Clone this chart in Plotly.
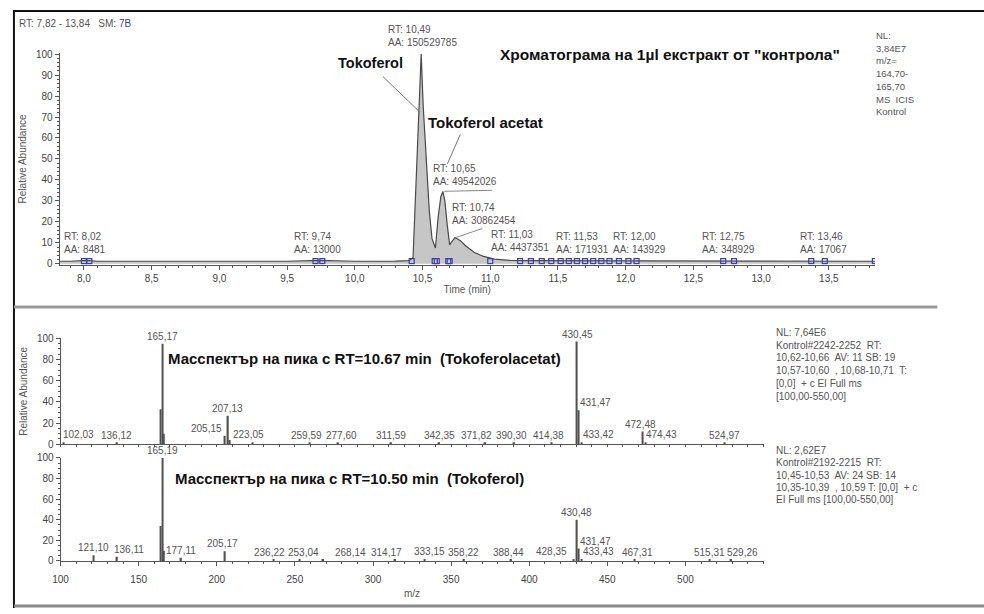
import plotly.graph_objects as go

W, H = 984, 614
FONT = "Liberation Sans, Arial, sans-serif"
GREY = "#555555"
AXIS = "#555555"
BLUE = "#3b3fa8"

# ---------------- chromatogram, m/z 164,70-165,70 ----------------
rt_min = [7.82, 7.90, 8.02, 8.10, 8.50, 9.00, 9.50, 9.74, 10.00, 10.30,
          10.40, 10.43, 10.44, 10.455, 10.47, 10.49, 10.505, 10.525, 10.55, 10.57,
          10.595, 10.615, 10.635, 10.65, 10.665, 10.68, 10.70, 10.715, 10.74, 10.78,
          10.82, 10.88, 10.95, 11.03, 11.15, 11.30, 11.53, 11.80, 12.00, 12.30,
          12.50, 12.75, 13.00, 13.30, 13.46, 13.70, 13.84]
rel_abund = [1.2, 1.2, 1.6, 1.2, 1.2, 1.2, 1.2, 1.6, 1.2, 1.3,
             1.5, 3.0, 20.0, 50.0, 72.0, 100.0, 75.0, 50.0, 25.0, 12.0,
             7.5, 22.0, 32.0, 34.5, 30.0, 20.0, 9.0, 10.5, 12.5, 11.0,
             8.5, 5.5, 3.5, 2.2, 1.6, 1.5, 1.5, 1.4, 1.4, 1.3,
             1.3, 1.5, 1.3, 1.3, 1.4, 1.2, 1.2]

# integration boundaries marked along the baseline
bound_rt = [8.00, 8.04, 9.71, 9.76, 10.42, 10.59, 10.605, 10.69, 10.70, 11.00,
            11.22, 11.30, 11.38, 11.45, 11.52, 11.58, 11.64, 11.70, 11.76, 11.82,
            11.88, 11.95, 12.02, 12.08, 12.72, 12.80, 13.37, 13.47, 13.84]

# detected peaks: retention time and area
peak_rt = [8.02, 9.74, 10.49, 10.65, 10.74, 11.03, 11.53, 12.00, 12.75, 13.46]
peak_area = ["8481", "13000", "150529785", "49542026", "30862454",
             "4437351", "171931", "143929", "348929", "17067"]
peak_label_dx = [-2, -2, 1, 22, 29, 26, 20, 14, 1, 0]
peak_label_dy = [3, 3, 4, 2, 10, 4, 4, 4, 4, 4]

time_ticks = [8.0, 8.5, 9.0, 9.5, 10.0, 10.5, 11.0, 11.5, 12.0, 12.5, 13.0, 13.5]

# ---------------- mass spectrum, RT 10,62-10,66 ----------------
ms1_mz = [102.03, 136.12, 164.15, 165.17, 166.18, 205.15, 207.13, 208.12, 223.05,
          259.59, 277.60, 311.59, 342.35, 371.82, 390.30, 414.38, 430.45, 431.47,
          433.42, 472.48, 474.43, 524.97]
ms1_ab = [2.0, 1.5, 33.0, 95.0, 10.0, 8.0, 27.0, 4.0, 2.0,
          1.5, 1.5, 1.0, 1.5, 1.5, 1.5, 1.0, 97.0, 32.0,
          2.0, 12.0, 2.0, 1.0]
ms1_labeled = [102.03, 136.12, 165.17, 205.15, 207.13, 223.05, 259.59, 277.60,
               311.59, 342.35, 371.82, 390.30, 414.38, 430.45, 431.47, 433.42,
               472.48, 474.43, 524.97]
ms1_label_dx = [15, 0, 0, -18, 0, -4, -3, 3, 0, 0, -9, -3, -3, 1, 17, 17, -2, 16, 0]

# ---------------- mass spectrum, RT 10,45-10,53 ----------------
ms2_mz = [121.10, 136.11, 164.15, 165.19, 166.20, 177.11, 205.17, 236.22, 253.04,
          268.14, 314.17, 333.15, 358.22, 388.44, 428.35, 430.48, 431.47, 433.43,
          467.31, 515.31, 529.26]
ms2_ab = [5.5, 4.0, 34.0, 100.0, 10.0, 3.0, 9.5, 1.0, 1.0,
          1.0, 1.0, 1.5, 1.0, 1.0, 2.0, 40.0, 12.0, 1.5,
          1.0, 1.0, 1.0]
ms2_labeled = [121.10, 136.11, 165.19, 177.11, 205.17, 236.22, 253.04, 268.14,
               314.17, 333.15, 358.22, 388.44, 428.35, 430.48, 431.47, 433.43,
               467.31, 515.31, 529.26]
ms2_label_dx = [0, 12, 0, 0, -2, -4, 4, 27, -9, 5, 0, -3, -22, 0, 17, 17, 3, 0, 11]

mz_ticks = [100, 150, 200, 250, 300, 350, 400, 450, 500]


def xp(px):
    return px / W


def yp(py):
    return 1 - py / H


def comma(v):
    return f"{v:.2f}".replace(".", ",")


fig = go.Figure()

# chromatogram
fig.add_trace(go.Scatter(
    x=rt_min, y=rel_abund, mode="lines", fill="tozeroy",
    fillcolor="#c6c6c6", line=dict(color="#4a4a4a", width=1.2),
    xaxis="x", yaxis="y", hoverinfo="skip", showlegend=False))
fig.add_trace(go.Scatter(
    x=bound_rt, y=[1.3] * len(bound_rt), mode="markers",
    marker=dict(symbol="square-open", size=5, color=BLUE, line=dict(width=1.2, color=BLUE)),
    xaxis="x", yaxis="y", hoverinfo="skip", showlegend=False))

# spectra
fig.add_trace(go.Bar(
    x=ms1_mz, y=ms1_ab, width=1.0, marker=dict(color="#505050", line=dict(width=0)),
    xaxis="x3", yaxis="y2", hoverinfo="skip", showlegend=False))
fig.add_trace(go.Bar(
    x=ms2_mz, y=ms2_ab, width=1.0, marker=dict(color="#505050", line=dict(width=0)),
    xaxis="x2", yaxis="y3", hoverinfo="skip", showlegend=False))

SMALL = 10
tickfont = dict(family=FONT, size=SMALL, color="#444444")
common = dict(showline=True, linecolor=AXIS, linewidth=1, ticks="outside",
              tickcolor=AXIS, ticklen=4, tickwidth=1, showgrid=False,
              zeroline=False, tickfont=tickfont, fixedrange=True)
title_font = dict(family=FONT, size=SMALL, color=GREY)

X0, X1 = 52, 874
MX0, MX1 = 53, 53 + 450 * 1.575

fig.update_layout(
    width=W, height=H, margin=dict(l=0, r=0, t=0, b=0),
    paper_bgcolor="white", plot_bgcolor="white",
    separators=", ", barmode="overlay",
    font=dict(family=FONT, size=SMALL, color=GREY),
    xaxis=dict(domain=[xp(X0), xp(X1)], range=[7.82, 13.84], anchor="y",
               tickvals=time_ticks, tickformat=".1f",
               minor=dict(dtick=0.1, tick0=7.9, ticks="outside", ticklen=2, tickcolor=AXIS),
               title=dict(text="Time (min)", font=title_font, standoff=3),
               **common),
    yaxis=dict(domain=[yp(264), yp(48)], range=[-0.5, 100.5], anchor="x",
               tickvals=list(range(0, 101, 10)),
               minor=dict(dtick=2, ticks="outside", ticklen=2, tickcolor=AXIS),
               title=dict(text="Relative Abundance", font=title_font, standoff=7),
               **common),
    xaxis2=dict(domain=[xp(MX0), xp(MX1)], range=[100, 550], anchor="y3",
                tickvals=mz_ticks, ticklabelstandoff=5,
                minor=dict(dtick=10, ticks="outside", ticklen=2, tickcolor=AXIS),
                title=dict(text="m/z", font=title_font, standoff=6),
                **common),
    xaxis3=dict(domain=[xp(MX0), xp(MX1)], range=[100, 550], anchor="y2",
                matches="x2", showticklabels=False, dtick=10,
                **{k: v for k, v in common.items() if k not in ("ticklen",)}, ticklen=2),
    yaxis2=dict(domain=[yp(447), yp(339)], range=[0, 100], anchor="x3",
                tickvals=[0, 20, 40, 60, 80, 100],
                minor=dict(dtick=5, ticks="outside", ticklen=2, tickcolor=AXIS),
                title=dict(text="Relative Abundance", font=title_font, standoff=7),
                **common),
    yaxis3=dict(domain=[yp(566), yp(461)], range=[0, 100], anchor="x2",
                tickvals=[0, 20, 40, 60, 80, 100],
                minor=dict(dtick=5, ticks="outside", ticklen=2, tickcolor=AXIS),
                **common),
)

ann = []
small = dict(family=FONT, size=SMALL, color=GREY)

# peak labels on the chromatogram
for rt, area, dx, dy in zip(peak_rt, peak_area, peak_label_dx, peak_label_dy):
    h = rel_abund[rt_min.index(rt)]
    ann.append(dict(x=rt, y=h, xref="x", yref="y", xanchor="center", yanchor="bottom",
                    align="left", xshift=dx, yshift=dy, showarrow=False,
                    text=f"RT: {comma(rt)}<br>AA: {area}", font=small))

# m/z labels on the spectra
for mz, dx in zip(ms1_labeled, ms1_label_dx):
    h = ms1_ab[ms1_mz.index(mz)]
    ann.append(dict(x=mz, y=h, xref="x3", yref="y2", xanchor="center", yanchor="bottom",
                    xshift=dx, yshift=0, showarrow=False, text=comma(mz), font=small))
for mz, dx in zip(ms2_labeled, ms2_label_dx):
    h = ms2_ab[ms2_mz.index(mz)]
    ann.append(dict(x=mz, y=h, xref="x2", yref="y3", xanchor="center", yanchor="bottom",
                    xshift=dx, yshift=0, showarrow=False, text=comma(mz), font=small))


def text_at(px, py, text, size=SMALL, color=GREY, anchor="left", bold=False):
    ann.append(dict(x=xp(px), y=yp(py), xref="paper", yref="paper", xanchor=anchor,
                    yanchor="middle", showarrow=False,
                    text=f"<b>{text}</b>" if bold else text,
                    font=dict(family=FONT, size=size, color=color)))


text_at(9, 18, f"RT: 7,82 - 13,84   SM: <span style='color:{BLUE}'>7B</span>")

# titles and compound names
text_at(494, 49, 'Хроматограма на 1µl екстракт от "контрола"', size=15.5, color="#111111", bold=True)
text_at(331, 58, "Tokoferol", size=14.5, color="#111111", bold=True)
text_at(421, 119, "Tokoferol acetat", size=15, color="#111111", bold=True)
text_at(159, 360, "Масспектър на пика с RT=10.67 min  (Tokoferolacetat)", size=15,
        color="#111111", bold=True)
text_at(166, 482, "Масспектър на пика с RT=10.50 min  (Tokoferol)", size=15,
        color="#111111", bold=True)

# scan information blocks
for i, line in enumerate(["NL:", "3,84E7", "m/z=", "164,70-", "165,70", "MS  ICIS", "Kontrol"]):
    text_at(873, 30 + i * 13, line, size=9.5)
for i, line in enumerate(["NL: 7,64E6", "Kontrol#2242-2252  RT:", "10,62-10,66  AV: 11 SB: 19",
                          "10,57-10,60  , 10,68-10,71  T:", "[0,0]  + c EI Full ms",
                          "[100,00-550,00]"]):
    text_at(772, 333 + i * 13, line)
for i, line in enumerate(["NL: 2,62E7", "Kontrol#2192-2215  RT:", "10,45-10,53  AV: 24 SB: 14",
                          "10,35-10,39  , 10,59 T: [0,0]  + c", "EI Full ms [100,00-550,00]"]):
    text_at(772, 453 + i * 12.7, line)

fig.update_layout(annotations=ann)

shapes = []


def seg(x0, y0, x1, y1, color, width):
    shapes.append(dict(type="line", xref="paper", yref="paper",
                       x0=xp(x0), y0=yp(y0), x1=xp(x1), y1=yp(y1),
                       line=dict(color=color, width=width)))


# leader lines from names to peaks
seg(378, 72, 415, 108, "#777777", 1)
seg(456, 131, 443, 161, "#777777", 1)
# label connectors
seg(440, 189, 488, 188, "#888888", 1)
seg(452, 236, 478, 227, "#888888", 1)

# frame
seg(6, 5, 6, 614, "#111111", 2)
seg(5, 5, 984, 5, "#111111", 2)
seg(6, 307, 937, 307, "#9a9a9a", 3)
seg(6, 612, 984, 612, "#8a8a8a", 3)

fig.update_layout(shapes=shapes)

fig.write_html("out.html")
